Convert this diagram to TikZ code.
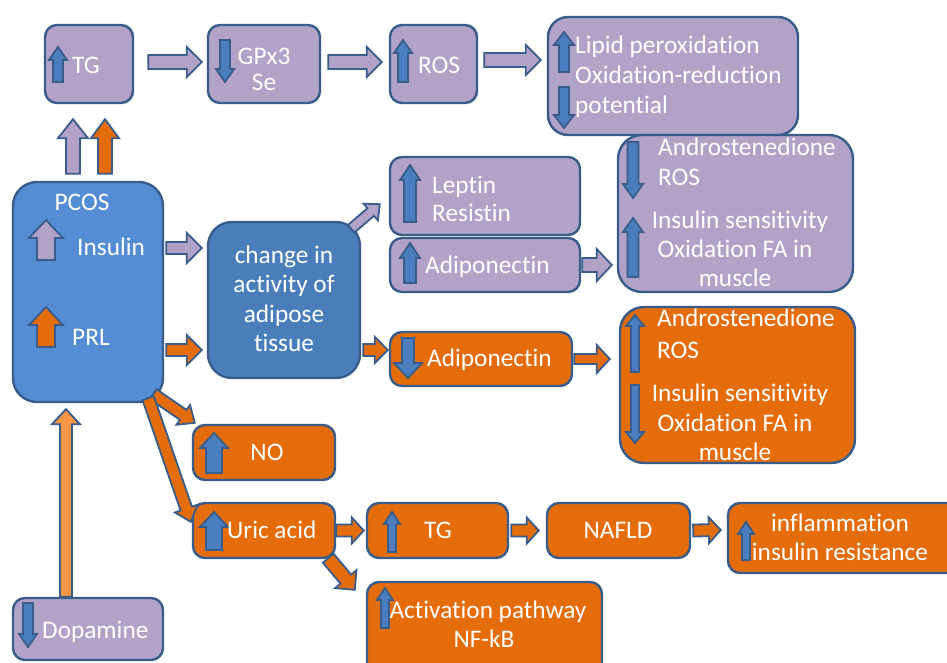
\documentclass[tikz,border=0pt]{standalone}
\usepackage{fontspec}
\setmainfont{Carlito}[Ligatures=NoCommon]
\usetikzlibrary{calc}
\definecolor{purp}{HTML}{B2A2C7}
\definecolor{orng}{HTML}{E46C0A}
\definecolor{lorng}{HTML}{F79646}
\definecolor{bord}{HTML}{385D8A}
\definecolor{pblue}{HTML}{548DD4}
\definecolor{cblue}{HTML}{4A7EBB}
\definecolor{iblue}{HTML}{4A7EBF}
\tikzset{
  bx/.style={draw=bord, line width=2.4pt, rounded corners=12pt, inner sep=0pt},
  bigbx/.style={bx, rounded corners=24pt},
  pbx/.style={bx, fill=purp},
  obx/.style={bx, fill=orng},
  txt/.style={text=white, inner sep=0pt, yshift=-4pt, font=\fontsize{25.3}{30}\selectfont},
  bordline/.style={draw=bord, line width=1.8pt, line join=miter},
}
\newcommand\blk[6]{%
  \coordinate (bkA) at #1;
  \coordinate (bkB) at #2;
  \coordinate (bkH) at ($(bkB)!#6!(bkA)$);
  \draw[bordline, fill=#3]
    ($(bkA)!#4!90:(bkB)$) -- ($(bkH)!#4!90:(bkB)$) -- ($(bkH)!#5!90:(bkB)$) --
    (bkB) -- ($(bkH)!#5!-90:(bkB)$) -- ($(bkH)!#4!-90:(bkB)$) --
    ($(bkA)!#4!-90:(bkB)$) -- cycle;
}
\begin{document}
\begin{tikzpicture}[x=1pt, y=-1pt]
\useasboundingbox (0,0) rectangle (947,662);
\fill[white] (0,0) rectangle (947,662);
\clip (0,0) rectangle (947,662);

% ---------- boxes ----------
\node[pbx, minimum width=88pt, minimum height=78pt] (tg1) at (89,64) {};
\node[pbx, minimum width=112pt, minimum height=78pt] (gpx) at (264,64) {};
\node[pbx, minimum width=87pt, minimum height=78pt] (ros) at (433.5,64) {};
\node[pbx, rounded corners=20pt, minimum width=250pt, minimum height=118pt] (lip) at (673,76) {};
\node[bigbx, fill=pblue, minimum width=150pt, minimum height=220pt] (pcos) at (88,292) {};
\node[bigbx, fill=cblue, minimum width=152pt, minimum height=156pt] (chg) at (284,300) {};
\node[pbx, minimum width=190pt, minimum height=78pt] (lep) at (485,196) {};
\node[pbx, minimum width=190pt, minimum height=54pt] (adp) at (485,265) {};
\node[bigbx, fill=purp, minimum width=235pt, minimum height=157pt] (and1) at (735.5,213.5) {};
\node[obx, minimum width=182pt, minimum height=54pt] (ado) at (481,359) {};
\node[bigbx, fill=orng, minimum width=235pt, minimum height=156pt] (and2) at (737.5,385) {};
\node[obx, minimum width=142pt, minimum height=55pt] (no) at (264,452.5) {};
\node[obx, minimum width=142pt, minimum height=55pt] (uric) at (264,530.5) {};
\node[obx, minimum width=141pt, minimum height=55pt] (tg2) at (437.5,530.5) {};
\node[obx, minimum width=143pt, minimum height=55pt] (naf) at (618.5,530.5) {};
\node[obx, minimum width=242pt, minimum height=70pt] (infl) at (849,538) {};
\node[obx, minimum width=235pt, minimum height=108pt] (act) at (484.5,636) {};
\node[pbx, minimum width=150pt, minimum height=62pt] (dop) at (88,629) {};

% ---------- icon arrows inside boxes ----------
\blk{(58,82)}{(58,47)}{iblue}{5pt}{9pt}{13pt}
\blk{(225,40)}{(225,82)}{iblue}{5pt}{9pt}{13pt}
\blk{(403,82)}{(403,40)}{iblue}{5pt}{9pt}{13pt}
\blk{(564,72)}{(564,32)}{iblue}{5pt}{10pt}{13pt}
\blk{(564,87)}{(564,128)}{iblue}{5pt}{10pt}{13pt}
\blk{(46,260)}{(46,220)}{purp}{9pt}{17pt}{18pt}
\blk{(46,347)}{(46,307)}{orng}{9pt}{17pt}{18pt}
\blk{(410,222)}{(410,165)}{iblue}{6pt}{10pt}{15pt}
\blk{(410,283)}{(410,243)}{iblue}{6pt}{10pt}{15pt}
\blk{(633,142)}{(633,198)}{iblue}{5.5pt}{10pt}{14pt}
\blk{(633,277)}{(633,218)}{iblue}{5.5pt}{10pt}{14pt}
\blk{(408,338)}{(408,378)}{iblue}{6pt}{14pt}{15pt}
\blk{(635,372)}{(635,315)}{iblue}{4pt}{9pt}{11pt}
\blk{(635,385)}{(635,443)}{iblue}{4pt}{9pt}{11pt}
\blk{(214,473)}{(214,433)}{iblue}{8pt}{14pt}{15pt}
\blk{(214,550)}{(214,512)}{iblue}{8pt}{14pt}{15pt}
\blk{(392,552)}{(392,512)}{iblue}{4pt}{8pt}{12pt}
\blk{(746,560)}{(746,522)}{iblue}{4pt}{8pt}{12pt}
\blk{(385,628)}{(385,588)}{iblue}{4pt}{8pt}{12pt}
\blk{(28,603)}{(28,647)}{iblue}{5pt}{9pt}{13pt}

% ---------- texts ----------
\node[txt, anchor=mid west] (tg1t) at (72,67) {TG};
\node[txt, anchor=mid] (gpxa) at (264,58) {GPx3};
\node[txt, anchor=mid] (gpxb) at (264,84) {Se};
\node[txt, anchor=mid west] (rost) at (418,67) {ROS};
\node[txt, anchor=mid west] (lipa) at (575,47) {Lipid peroxidation};
\node[txt, anchor=mid west] (lipb) at (575,77) {Oxidation-reduction};
\node[txt, anchor=mid west] (lipc) at (575,107) {potential};
\node[txt, anchor=mid] (pcost) at (82,204) {PCOS};
\node[txt, anchor=mid west] (inst) at (77,249) {Insulin};
\node[txt, anchor=mid west] (prlt) at (72,339) {PRL};
\node[txt, anchor=mid] (chga) at (284,257) {change in};
\node[txt, anchor=mid] (chgb) at (284,286.5) {activity of};
\node[txt, anchor=mid] (chgc) at (284,316) {adipose};
\node[txt, anchor=mid] (chgd) at (284,345.5) {tissue};
\node[txt, anchor=mid west] (lepa) at (432,187) {Leptin};
\node[txt, anchor=mid west] (lepb) at (432,215) {Resistin};
\node[txt, anchor=mid west] (adpt) at (425,267) {Adiponectin};
\node[txt, anchor=mid west] (anda) at (658,149) {Androstenedione};
\node[txt, anchor=mid west] (andb) at (658,179) {ROS};
\node[txt, anchor=mid] (andc) at (740,222) {Insulin sensitivity};
\node[txt, anchor=mid] (andd) at (735,251) {Oxidation FA in};
\node[txt, anchor=mid] (ande) at (735,280) {muscle};
\node[txt, anchor=mid west] (adot) at (427,360) {Adiponectin};
\node[txt, anchor=mid west] (anoa) at (657,320) {Androstenedione};
\node[txt, anchor=mid west] (anob) at (657,352) {ROS};
\node[txt, anchor=mid] (anoc) at (740,395) {Insulin sensitivity};
\node[txt, anchor=mid] (anod) at (735,425) {Oxidation FA in};
\node[txt, anchor=mid] (anoe) at (735,454) {muscle};
\node[txt, anchor=mid] (not) at (267,454) {NO};
\node[txt, anchor=mid west] (urict) at (227,532) {Uric acid};
\node[txt, anchor=mid] (tg2t) at (438,532) {TG};
\node[txt, anchor=mid] (naft) at (618,532) {NAFLD};
\node[txt, anchor=mid] (infla) at (840,525) {inflammation};
\node[txt, anchor=mid] (inflb) at (840,554) {insulin resistance};
\node[txt, anchor=mid] (acta) at (488,612) {Activation pathway};
\node[txt, anchor=mid] (actb) at (484,641) {NF-kB};
\node[txt, anchor=mid west] (dopt) at (42,632) {Dopamine};

% ---------- connectors ----------
\blk{($(tg1.east)+(14,-2)$)}{($(gpx.west)+(-5,-2)$)}{purp}{7pt}{15pt}{15pt}
\blk{($(gpx.east)+(7,-2)$)}{($(ros.west)+(-7,-2)$)}{purp}{7pt}{15pt}{15pt}
\blk{($(ros.east)+(6,-4)$)}{($(lip.west)+(-6,-16)$)}{purp}{7pt}{15pt}{15pt}
\blk{($(pcos.north)+(-15,-7)$)}{($(tg1.south)+(-16,15)$)}{purp}{7pt}{15pt}{19pt}
\blk{($(pcos.north)+(17,-7)$)}{($(tg1.south)+(16,15)$)}{orng}{7pt}{14pt}{19pt}
\blk{($(pcos.east)+(2,-44)$)}{($(chg.west)+(-5,-52)$)}{purp}{6pt}{15pt}{15pt}
\blk{($(pcos.east)+(2,58)$)}{($(chg.west)+(-5,50)$)}{orng}{6pt}{15pt}{15pt}
\blk{($(chg.north east)+(-10,8)$)}{($(lep.south west)+(-9,-32)$)}{purp}{5pt}{11pt}{12pt}
\blk{($(chg.east)+(2,50)$)}{($(ado.west)+(-1,-9)$)}{orng}{6pt}{13pt}{13pt}
\blk{($(adp.east)+(1,0)$)}{($(and1.west)+(-5,51.5)$)}{purp}{7pt}{16pt}{15pt}
\blk{($(ado.east)+(1,0)$)}{($(and2.west)+(-9,-26)$)}{orng}{5pt}{14pt}{13pt}
\blk{($(dop.north)+(-22,0)$)}{($(pcos.south)+(-22,6)$)}{lorng}{6pt}{14pt}{15pt}
\blk{($(pcos.south east)+(-11,-9)$)}{($(no.north west)+(3,-1)$)}{orng}{6pt}{12pt}{14pt}
\blk{($(pcos.south east)+(-16,-5)$)}{($(uric.north west)+(-1,20)$)}{orng}{6pt}{12pt}{14pt}
\blk{($(uric.east)+(0,0)$)}{($(tg2.west)+(-2,0)$)}{orng}{6pt}{13pt}{12pt}
\blk{($(uric.south east)+(-8,-1)$)}{($(act.north west)+(-11,9)$)}{orng}{7pt}{14pt}{14pt}
\blk{($(tg2.east)+(2,0)$)}{($(naf.west)+(-7,0)$)}{orng}{6pt}{13pt}{12pt}
\blk{($(naf.east)+(2,0)$)}{($(infl.west)+(-6,-8)$)}{orng}{6pt}{13pt}{12pt}
\end{tikzpicture}
\end{document}
